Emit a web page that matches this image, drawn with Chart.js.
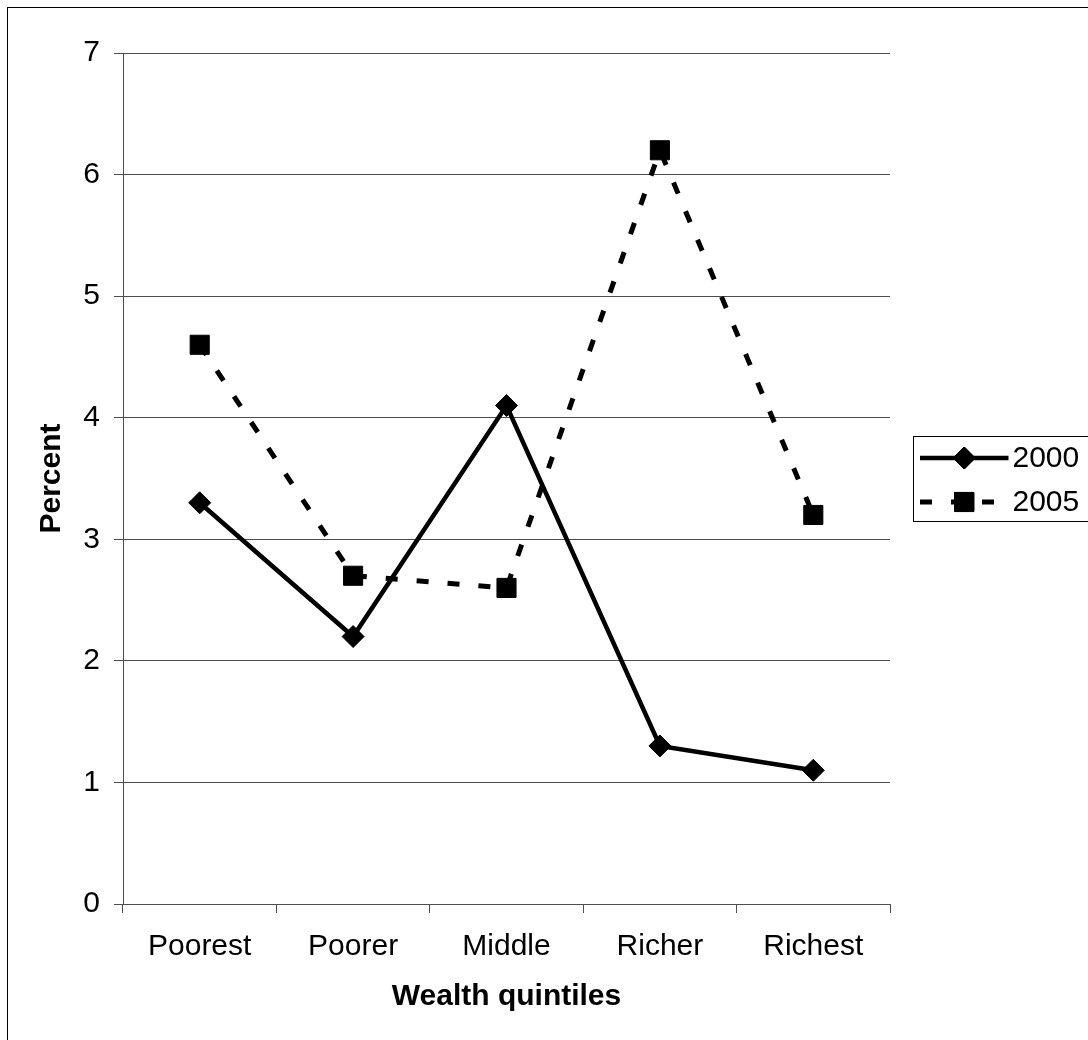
<!DOCTYPE html>
<html>
<head>
<meta charset="utf-8">
<script src="https://cdn.jsdelivr.net/npm/chart.js@4/dist/chart.umd.min.js"></script>
<style>
  html, body { margin: 0; padding: 0; background: #fff; }
  #wrap { width: 1088px; height: 1040px; }
</style>
</head>
<body>
<div id="wrap"><canvas id="chart" width="1088" height="1040"></canvas></div>
<script>
// Wealth quintile categories and series values (percent)
const categories = ['Poorest', 'Poorer', 'Middle', 'Richer', 'Richest'];
const values2000 = [3.3, 2.2, 4.1, 1.3, 1.1];
const values2005 = [4.6, 2.7, 2.6, 6.2, 3.2];
const seriesLabels = ['2000', '2005'];
const yMin = 0, yMax = 7, yStep = 1;

const FONT = '"Liberation Sans", Arial, Helvetica, sans-serif';
const GRID = '#4d4d4d';

// White page with a thin frame around the whole chart
const framePlugin = {
  id: 'frame',
  beforeDraw(chart) {
    const ctx = chart.ctx;
    ctx.save();
    ctx.fillStyle = '#fff';
    ctx.fillRect(0, 0, chart.width, chart.height);
    ctx.strokeStyle = '#000';
    ctx.lineWidth = 1;
    ctx.strokeRect(7.5, 7.5, chart.width + 20, chart.height + 20);
    ctx.restore();
  }
};

// Legend box to the right of the plot: line sample with marker, then label
const sideLegend = {
  id: 'sideLegend',
  afterDraw(chart) {
    const ctx = chart.ctx;
    const area = chart.chartArea;
    const boxX = area.right + 23.5;
    const boxY = 436.5;
    const rowH = 44;
    const sets = chart.data.datasets;
    ctx.save();
    ctx.strokeStyle = '#000';
    ctx.lineWidth = 1;
    ctx.strokeRect(boxX, boxY, 300, rowH * sets.length - 3);
    sets.forEach((ds, i) => {
      const cy = boxY + 21.5 + i * rowH;
      const x0 = boxX + 6.5, x1 = boxX + 95;
      const mx = (x0 + x1) / 2;
      ctx.save();
      ctx.strokeStyle = ds.borderColor;
      ctx.lineWidth = ds.borderWidth;
      ctx.setLineDash(ds.borderDash || []);
      ctx.beginPath();
      ctx.moveTo(x0, cy);
      ctx.lineTo(x1, cy);
      ctx.stroke();
      ctx.restore();
      Chart.helpers.drawPoint(ctx, {
        pointStyle: ds.pointStyle,
        radius: ds.pointRadius,
        borderWidth: ds.pointBorderWidth,
        rotation: 0
      }, mx, cy);
      ctx.fillStyle = ds.pointBackgroundColor;
      ctx.strokeStyle = ds.pointBorderColor;
      ctx.lineWidth = ds.pointBorderWidth;
      ctx.fill();
      ctx.stroke();
      ctx.fillStyle = '#000';
      ctx.font = '30px ' + FONT;
      ctx.textAlign = 'left';
      ctx.textBaseline = 'middle';
      ctx.fillText(ds.label, x1 + 4, cy + 1);
    });
    ctx.restore();
  }
};

new Chart(document.getElementById('chart'), {
  type: 'line',
  data: {
    labels: categories,
    datasets: [
      {
        label: seriesLabels[0],
        data: values2000,
        borderColor: '#000',
        borderWidth: 4.5,
        pointStyle: 'rectRot',
        pointRadius: 11,
        pointHoverRadius: 11,
        pointBackgroundColor: '#000',
        pointBorderColor: '#000',
        pointBorderWidth: 1,
        tension: 0
      },
      {
        label: seriesLabels[1],
        data: values2005,
        borderColor: '#000',
        borderWidth: 5,
        borderDash: [12, 19],
        pointStyle: 'rect',
        pointRadius: 13.5,
        pointHoverRadius: 13.5,
        pointBackgroundColor: '#000',
        pointBorderColor: '#000',
        pointBorderWidth: 1,
        tension: 0
      }
    ]
  },
  options: {
    responsive: false,
    animation: false,
    events: [],
    layout: { padding: { left: 0, top: 53, right: 198, bottom: 0 } },
    plugins: {
      legend: { display: false },
      tooltip: { enabled: false },
      title: { display: false }
    },
    scales: {
      x: {
        type: 'category',
        offset: true,
        grid: {
          offset: true,
          drawOnChartArea: false,
          drawTicks: true,
          tickLength: 9,
          color: GRID,
          lineWidth: 1
        },
        border: { display: true, color: GRID, width: 1 },
        ticks: {
          color: '#000',
          padding: 16,
          maxRotation: 0,
          font: { family: FONT, size: 30 }
        },
        title: {
          display: true,
          text: 'Wealth quintiles',
          color: '#000',
          padding: { top: 0, bottom: 25 },
          font: { family: FONT, size: 30, weight: 'bold' }
        },
        afterFit(scale) { scale.height = 136; }
      },
      y: {
        min: yMin,
        max: yMax,
        ticks: {
          stepSize: yStep,
          color: '#000',
          padding: 14,
          font: { family: FONT, size: 30 }
        },
        grid: {
          color: GRID,
          lineWidth: 1,
          drawTicks: true,
          tickLength: 9
        },
        border: { display: true, color: GRID, width: 1 },
        title: {
          display: true,
          text: 'Percent',
          color: '#000',
          padding: { top: 34, bottom: 0 },
          font: { family: FONT, size: 30, weight: 'bold' }
        },
        afterFit(scale) { scale.width = 123; }
      }
    }
  },
  plugins: [framePlugin, sideLegend]
});
</script>
</body>
</html>
